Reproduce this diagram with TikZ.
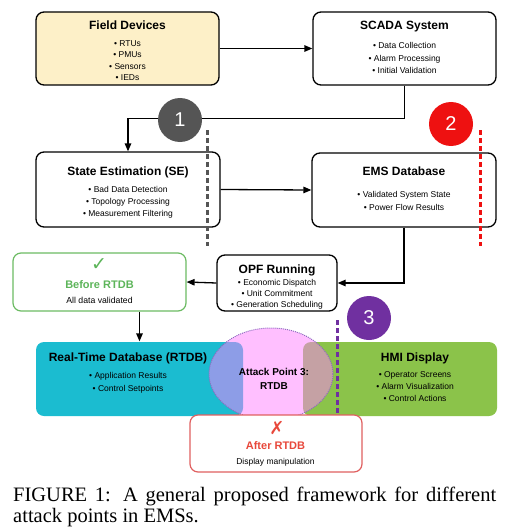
\documentclass[tikz,border=0pt]{standalone}
\usepackage{fontspec}
\setmainfont{Liberation Sans}
\newfontfamily\capfont{Liberation Serif}
\newfontfamily\symfont{DejaVu Sans}
\usetikzlibrary{arrows.meta,shapes.geometric}
\definecolor{fdyellow}{HTML}{FDF0C8}
\definecolor{rtcyan}{HTML}{1BBCD0}
\definecolor{hmigreen}{HTML}{8BC34A}
\definecolor{atkpink}{HTML}{FF80FF}
\definecolor{atkborder}{HTML}{8E6BBF}
\definecolor{okgreen}{HTML}{6CBB63}
\definecolor{oktext}{HTML}{5DB55A}
\definecolor{badred}{HTML}{E06060}
\definecolor{badtext}{HTML}{E8483B}
\definecolor{numgray}{HTML}{555555}
\definecolor{numred}{HTML}{EE1111}
\definecolor{numpurple}{HTML}{7030A0}
\begin{document}
\begin{tikzpicture}[x=1pt,y=-1pt,
  box/.style={draw=black, line width=1.3pt, rounded corners=8pt, fill=white, inner sep=0pt},
  ttl/.style={font=\bfseries\fontsize{12}{14}\selectfont, anchor=base, inner sep=0pt},
  blt/.style={font=\fontsize{8.5}{12}\selectfont, align=center, inner sep=0pt},
  arr/.style={line width=1.3pt, -{Triangle[length=8pt,width=6.5pt]}},
  num/.style={circle, minimum size=44pt, inner sep=0pt, text=white, font=\fontsize{20}{20}\selectfont},
  atkline/.style={line width=3pt, dash pattern=on 5pt off 3pt}
]
\useasboundingbox (0,0) rectangle (519,532);

% Field devices
\node[box, fill=fdyellow, minimum width=183pt, minimum height=73pt] (fd) at (127.5,48.5) {};
\node[ttl] (fdT) at (127.5,30) {Field Devices};
\node[blt, font=\fontsize{8.5}{11.3}\selectfont] (fdB) at (127.5,60.5) {• RTUs\\• PMUs\\• Sensors\\• IEDs};

% SCADA
\node[box, minimum width=183pt, minimum height=73pt] (scada) at (404.5,48.5) {};
\node[ttl] (scadaT) at (404.5,30) {SCADA System};
\node[blt, font=\fontsize{8.5}{12.5}\selectfont] (scadaB) at (404.5,58) {• Data Collection\\• Alarm Processing\\• Initial Validation};

% SE
\node[box, minimum width=184pt, minimum height=75pt] (se) at (128,189.5) {};
\node[ttl] (seT) at (128,175) {State Estimation (SE)};
\node[blt] (seB) at (128,202.5) {• Bad Data Detection\\• Topology Processing\\• Measurement Filtering};

% EMS DB
\node[box, minimum width=184pt, minimum height=74pt] (ems) at (404,190) {};
\node[ttl] (emsT) at (404,175) {EMS Database};
\node[blt, font=\fontsize{8.5}{13}\selectfont] (emsB) at (404,201) {• Validated System State\\• Power Flow Results};

% OPF
\node[box, minimum width=120pt, minimum height=56pt] (opf) at (277,283) {};
\node[ttl] (opfT) at (277,273) {OPF Running};
\node[blt, font=\fontsize{8.5}{11}\selectfont] (opfB) at (277,294) {• Economic Dispatch\\• Unit Commitment\\• Generation Scheduling};

% Before RTDB
\node[box, draw=okgreen, line width=1.2pt, minimum width=173pt, minimum height=58pt] (before) at (99.5,282) {};
\node[inner sep=0pt, text=oktext, font=\symfont\fontsize{19}{19}\selectfont] (okmark) at (99,265) {✓};
\node[ttl, text=oktext, font=\bfseries\fontsize{11}{13}\selectfont] (beforeT) at (99.5,288) {Before RTDB};
\node[blt, font=\fontsize{8.7}{10}\selectfont] (beforeB) at (99.5,300) {All data validated};

% RTDB and HMI
\node[box, draw=none, fill=rtcyan, minimum width=207pt, minimum height=74pt] (rtdb) at (139.5,379) {};
\node[box, draw=none, fill=hmigreen, minimum width=194pt, minimum height=74pt] (hmi) at (400,379) {};
\node[ellipse, fill=atkpink, fill opacity=0.5, draw=atkborder, densely dotted, line width=1pt,
      minimum width=124pt, minimum height=92pt, inner sep=0pt] (atk) at (271,374) {};
\node[ttl] (rtdbT) at (128,361) {Real-Time Database (RTDB)};
\node[blt, font=\fontsize{8.5}{13}\selectfont] (rtdbB) at (128,383) {• Application Results\\• Control Setpoints};
\node[ttl] (hmiT) at (415,361) {HMI Display};
\node[blt] (hmiB) at (415,386.5) {• Operator Screens\\• Alarm Visualization\\• Control Actions};
\node[inner sep=0pt, align=center, font=\bfseries\fontsize{10}{14}\selectfont] (atkT) at (274,378.4) {Attack Point 3:\\RTDB};

% After RTDB
\node[box, draw=badred, line width=1.2pt, minimum width=172pt, minimum height=57pt] (after) at (276,443.5) {};
\node[inner sep=0pt, text=badtext, font=\symfont\fontsize{18}{18}\selectfont] (badmark) at (277,428) {✗};
\node[ttl, text=badtext, font=\bfseries\fontsize{11}{13}\selectfont] (afterT) at (275.5,449) {After RTDB};
\node[blt] (afterB) at (275.5,462) {Display manipulation};

% connectors
\draw[arr] (fd.east) -- (scada.west);
\draw[arr] (scada.south) -- ++(0,33) -| (se.north);
\draw[arr] (se.east) -- (ems.west);
\draw[arr] (ems.south) |- (opf.east);
\draw[arr] (opf.west) -- (before.east);
\draw[arr] (rtdb.north |- before.south) -- (rtdb.north);

% attack point markers
\coordinate (g1) at (207,130); \coordinate (g2) at (207,246);
\coordinate (r1) at (480,130); \coordinate (r2) at (480,246);
\coordinate (p1) at (337,320); \coordinate (p2) at (337,414);
\draw[atkline, numgray] (g1) -- (g2);
\draw[atkline, numred] (r1) -- (r2);
\draw[atkline, numpurple] (p1) -- (p2);
\node[num, fill=numgray] (n1) at (180,120) {1};
\node[num, fill=numred] (n2) at (451,124) {2};
\node[num, fill=numpurple] (n3) at (369,318) {3};

% caption
\node[anchor=north west, inner sep=0pt, align=left,
      font=\capfont\fontsize{20.5}{21}\selectfont] (cap) at (13,487)
  {\makebox[483pt][s]{FIGURE 1: A general proposed framework for different}\\attack points in EMSs.};
\end{tikzpicture}
\end{document}
